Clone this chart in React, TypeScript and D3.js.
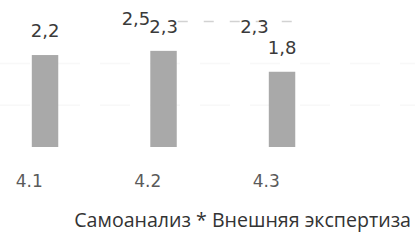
import React from "react";
import * as d3 from "d3";

const categories = ["4.1", "4.2", "4.3"];
const seriesNames = ["Внешняя экспертиза", "Самоанализ"];
// washed-out series (white bars), only its labels survive
const externalValues: (number | null)[] = [null, 2.5, 2.3];
const selfValues = [2.2, 2.3, 1.8];
const gridTicks = [1, 2, 3];
const legendText = "Самоанализ * Внешняя экспертиза";

const W = 415;
const H = 241;

const App = () => {
  const margin = { top: 0, bottom: 147 };

  // chart is cropped on the left, so the band range starts off-canvas
  const x = d3.scaleBand().domain(categories).range([-28, 327.5]).padding(0);
  const xs = d3.scaleBand().domain(seriesNames).range([-27, 27]).paddingInner(0.04);
  const y = d3.scaleLinear().domain([0, 3.5]).range([margin.bottom, margin.bottom - 3.5 * 41.8]);

  const center = (c: string) => (x(c) as number) + x.bandwidth() / 2;

  const numFmt = (v: number) => v.toFixed(1).replace(".", ",");

  const rows = categories.map((c, i) => ({
    cat: c,
    vals: [
      { s: seriesNames[0], v: externalValues[i] },
      { s: seriesNames[1], v: selfValues[i] },
    ],
  }));

  return (
    <svg width={W} height={H} style={{ position: "absolute", left: 0, top: 0, background: "#fff" }}>
      {/* faint gridlines, mostly washed out */}
      {gridTicks.map((t) => (
        <line
          key={t}
          x1={t === 3 ? center("4.2") + 28 : 0}
          x2={t === 3 ? center("4.3") + 30 : W}
          y1={y(t)}
          y2={y(t)}
          stroke={t === 3 ? "#d2d2d2" : "#f8f8f8"}
          strokeWidth={1.5}
          strokeDasharray={t === 3 ? "10 16" : "30 20"}
        />
      ))}

      {rows.map((r) => (
        <g key={r.cat} transform={`translate(${center(r.cat)},0)`}>
          {r.vals.map((d) =>
            d.v == null ? null : (
              <g key={d.s}>
                <rect
                  x={xs(d.s) as number}
                  width={xs.bandwidth()}
                  y={y(d.v)}
                  height={y(0) - y(d.v)}
                  fill={d.s === seriesNames[1] ? "#a9a9a9" : "none"}
                />
                <text
                  x={(xs(d.s) as number) + xs.bandwidth() / 2}
                  y={y(d.v) - 18}
                  textAnchor="middle"
                  fontFamily="DejaVu Sans, sans-serif"
                  fontSize={18}
                  fill="#3a3a3a"
                >
                  {numFmt(d.v)}
                </text>
              </g>
            )
          )}
          <text
            x={-2}
            y={187}
            textAnchor="middle"
            fontFamily="DejaVu Sans, sans-serif"
            fontSize={17}
            fill="#5a5a5a"
          >
            {r.cat}
          </text>
        </g>
      ))}

      <text
        x={411}
        y={227}
        textAnchor="end"
        fontFamily="Open Sans, sans-serif"
        fontSize={19.6}
        fill="#333"
      >
        {legendText}
      </text>
    </svg>
  );
};

export default App;
